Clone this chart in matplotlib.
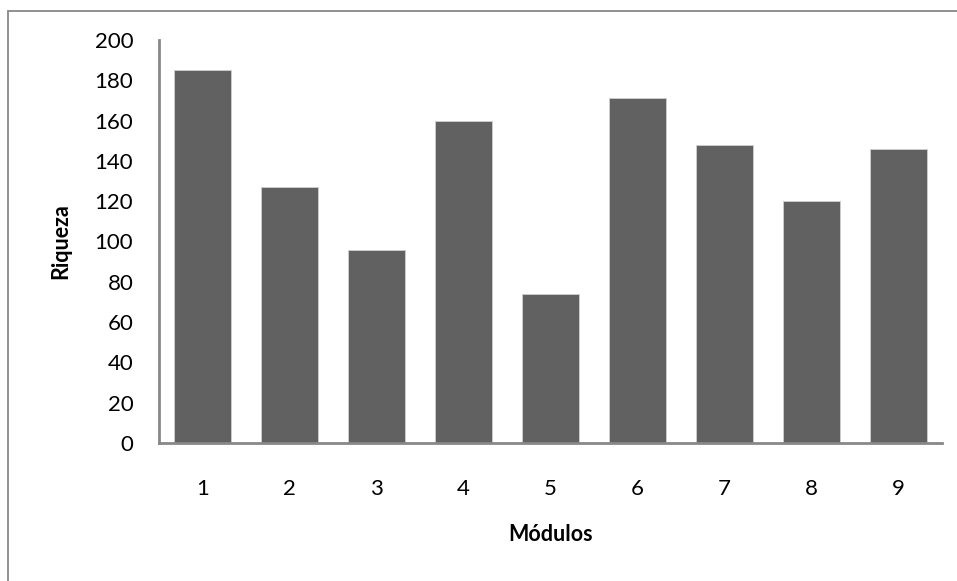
import matplotlib.pyplot as plt
from matplotlib.patches import Rectangle

plt.rcParams["font.family"] = ["Lato", "DejaVu Sans"]

modulos = ["1", "2", "3", "4", "5", "6", "7", "8", "9"]
riqueza = [185, 127, 96, 160, 74, 171, 148, 120, 146]
yticks = [0, 20, 40, 60, 80, 100, 120, 140, 160, 180, 200]

fig = plt.figure(figsize=(9.57, 5.81), dpi=100)
ax = fig.add_axes([0.1661, 0.2375, 0.8182, 0.6937])

x = range(1, len(modulos) + 1)
ax.bar(x, riqueza, width=0.65, color="#616161", edgecolor="#d0d0d0", linewidth=0.6)

ax.set_xlim(0.5, len(modulos) + 0.5)
ax.set_ylim(0, 200)
ax.set_xticks(list(x))
ax.set_xticklabels(modulos)
ax.set_yticks(yticks)

for side in ["top", "right"]:
    ax.spines[side].set_visible(False)
for side in ["left", "bottom"]:
    ax.spines[side].set_color("#888888")
    ax.spines[side].set_linewidth(2)

ax.tick_params(axis="y", length=0, pad=18.5, labelsize=16, colors="black")
ax.tick_params(axis="x", length=0, pad=26, labelsize=16, colors="black")

ax.set_xlabel("Módulos", fontsize=15.5, fontweight="bold", labelpad=18)
ax.set_ylabel("Riqueza", fontsize=15.5, fontweight="bold", labelpad=17)

# outer chart-area border (only top and left visible in the crop)
fig.patches.append(Rectangle((8 / 957, -0.1), 1.2, 1 - 11 / 581 + 0.1,
                             transform=fig.transFigure, fill=False,
                             edgecolor="#888888", linewidth=1.3))

fig.savefig("out.png", dpi=100)
